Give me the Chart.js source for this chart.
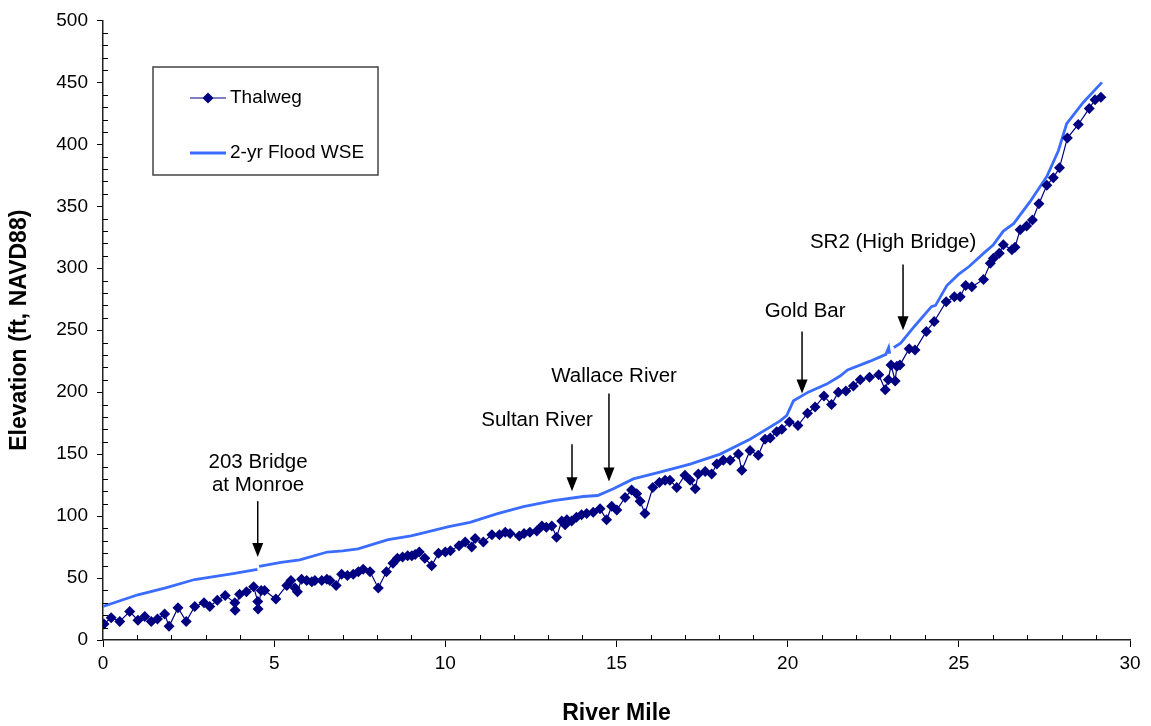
<!DOCTYPE html>
<html>
<head>
<meta charset="utf-8">
<title>Thalweg and 2-yr Flood WSE</title>
<script src="https://cdn.jsdelivr.net/npm/chart.js@4.4.1/dist/chart.umd.min.js"></script>
<style>
  html, body { margin: 0; padding: 0; background: #fff; }
  #wrap { width: 1151px; height: 726px; }
</style>
</head>
<body>
<div id="wrap"><canvas id="profile" width="1151" height="726"></canvas></div>
<script>
// Thalweg survey points (river mile, elevation ft)
const thalwegMile = [
  0.03, 0.24, 0.49, 0.78, 1.02, 1.22, 1.41, 1.59, 1.80, 1.93,
  2.19, 2.43, 2.68, 2.95, 3.12, 3.34, 3.57, 3.85, 3.86, 3.99,
  4.19, 4.40, 4.52, 4.53, 4.62, 4.72, 5.05, 5.37, 5.49, 5.61,
  5.68, 5.80, 5.95, 6.10, 6.19, 6.39, 6.54, 6.63, 6.81, 6.97,
  7.14, 7.31, 7.46, 7.60, 7.80, 8.04, 8.28, 8.47, 8.60, 8.75,
  8.90, 9.02, 9.12, 9.24, 9.40, 9.60, 9.80, 10.00, 10.15, 10.40,
  10.58, 10.77, 10.87, 11.11, 11.36, 11.58, 11.75, 11.89, 12.16, 12.30,
  12.47, 12.67, 12.82, 12.95, 13.11, 13.25, 13.40, 13.50, 13.55, 13.69,
  13.83, 13.98, 14.13, 14.32, 14.52, 14.71, 14.86, 15.01, 15.25, 15.44,
  15.59, 15.69, 15.83, 16.06, 16.25, 16.42, 16.56, 16.76, 17.00, 17.15,
  17.30, 17.39, 17.59, 17.78, 17.93, 18.12, 18.32, 18.56, 18.66, 18.90,
  19.14, 19.34, 19.49, 19.68, 19.83, 20.05, 20.30, 20.58, 20.80, 21.06,
  21.28, 21.48, 21.70, 21.92, 22.12, 22.39, 22.66, 22.85, 22.94, 23.02,
  23.14, 23.19, 23.28, 23.55, 23.72, 24.05, 24.28, 24.63, 24.87, 25.04,
  25.20, 25.38, 25.72, 25.92, 26.01, 26.18, 26.30, 26.55, 26.64, 26.79,
  26.98, 27.15, 27.34, 27.57, 27.76, 27.94, 28.17, 28.49, 28.81, 28.98,
  29.15
];
const thalwegElev = [
  13, 18, 15, 23, 16, 19, 15, 17, 21, 11,
  26, 15, 27, 30, 27, 32, 36, 30, 24, 37,
  39, 43, 31, 25, 40, 40, 33, 44, 48, 42,
  39, 49, 48, 47, 48, 48, 49, 48, 44, 53,
  52, 53, 55, 57, 55, 42, 55, 62, 66, 67,
  68, 68, 69, 71, 66, 60, 70, 71, 72, 76,
  79, 75, 82, 79, 85, 85, 87, 86, 84, 86,
  87, 88, 92, 91, 92, 83, 96, 93, 97, 96,
  99, 101, 102, 103, 106, 97, 108, 105, 115, 121,
  118, 112, 102, 123, 127, 129, 129, 123, 133, 129,
  122, 134, 136, 134, 142, 145, 145, 150, 137, 153,
  149, 162, 163, 168, 170, 176, 173, 183, 188, 197,
  190, 200, 201, 205, 210, 212, 214, 202, 210, 222,
  209, 221, 222, 235, 234, 249, 257, 273, 277, 277,
  286, 285, 291, 304, 308, 312, 319, 315, 317, 331,
  334, 339, 352, 367, 373, 381, 405, 416, 429, 436,
  438
];

// 2-yr flood water surface (null marks a break in the profile)
const wseMile = [
  0.00, 1.02, 1.83, 2.68, 3.10, 3.80, 4.51, 4.54, 4.56, 5.20,
  5.75, 6.55, 7.00, 7.45, 8.33, 9.00, 9.45, 10.10, 10.72, 11.50,
  12.28, 13.16, 14.03, 14.45, 14.91, 15.49, 16.27, 17.15, 18.03, 18.90,
  19.78, 19.97, 20.17, 20.60, 21.14, 21.53, 21.75, 22.41, 22.87, 22.95,
  22.98, 23.04, 23.10, 23.30, 23.70, 24.20, 24.32, 24.65, 24.99, 25.30,
  25.72, 26.01, 26.30, 26.60, 27.08, 27.57, 27.91, 28.15, 28.64, 29.18
];
const wseElev = [
  27, 36.5, 42, 48.8, 50.5, 53.6, 57, null, 59.5, 62.7,
  64.7, 71, 72, 73.5, 81, 84, 87, 91.5, 95, 101.8,
  107.7, 112.5, 115.8, 116.6, 122, 130, 135.4, 142, 150, 162,
  176.8, 181, 193, 200, 206.5, 213, 218, 225, 230.5, 236,
  231, null, 236, 239.5, 253, 269, 270, 286, 295, 301.4,
  312, 319, 330, 336, 353.7, 374, 395, 416.7, 434, 450
];

const xTicks = [0, 5, 10, 15, 20, 25, 30];
const yTicks = [0, 50, 100, 150, 200, 250, 300, 350, 400, 450, 500];

// Callouts: label lines, text anchor and arrow (river mile / elevation)
const callouts = [
  { lines: ['203 Bridge', 'at Monroe'], textMile: 4.53, textElev: 143, arrowMile: 4.52, fromElev: 112, toElev: 67 },
  { lines: ['Sultan River'], textMile: 12.68, textElev: 177, arrowMile: 13.70, fromElev: 158, toElev: 120 },
  { lines: ['Wallace River'], textMile: 14.93, textElev: 213, arrowMile: 14.78, fromElev: 199, toElev: 128 },
  { lines: ['Gold Bar'], textMile: 20.51, textElev: 265, arrowMile: 20.42, fromElev: 249, toElev: 199 },
  { lines: ['SR2 (High Bridge)'], textMile: 23.08, textElev: 321, arrowMile: 23.37, fromElev: 303, toElev: 250 }
];

const NAVY = '#000080';
const WSE_BLUE = '#3a6cff';
const FONT = "'Liberation Sans', Arial, sans-serif";

const thalwegData = thalwegMile.map((m, i) => ({ x: m, y: thalwegElev[i] }));
const wseData = wseMile.map((m, i) => ({ x: m, y: wseElev[i] }));

// minor ticks, callout arrows and the boxed legend
const overlay = {
  id: 'overlay',
  afterDraw(chart) {
    const ctx = chart.ctx;
    const xs = chart.scales.x;
    const ys = chart.scales.y;
    const area = chart.chartArea;

    ctx.save();
    ctx.strokeStyle = '#000';
    ctx.lineWidth = 1;
    // minor ticks point inward
    for (let v = 10; v < 500; v += 10) {
      if (v % 50 === 0) continue;
      const py = Math.round(ys.getPixelForValue(v)) + 0.5;
      ctx.beginPath();
      ctx.moveTo(area.left, py);
      ctx.lineTo(area.left + 5, py);
      ctx.stroke();
    }
    for (let v = 1; v < 30; v++) {
      if (v % 5 === 0) continue;
      const px = Math.round(xs.getPixelForValue(v)) + 0.5;
      ctx.beginPath();
      ctx.moveTo(px, area.bottom);
      ctx.lineTo(px, area.bottom - 5);
      ctx.stroke();
    }

    // callouts
    ctx.fillStyle = '#000';
    ctx.font = '20.5px ' + FONT;
    ctx.textAlign = 'center';
    ctx.textBaseline = 'middle';
    callouts.forEach(c => {
      const tx = xs.getPixelForValue(c.textMile);
      const ty = ys.getPixelForValue(c.textElev);
      c.lines.forEach((t, i) => ctx.fillText(t, tx, ty + i * 23));

      const ax = xs.getPixelForValue(c.arrowMile);
      const y0 = ys.getPixelForValue(c.fromElev);
      const y1 = ys.getPixelForValue(c.toElev);
      ctx.lineWidth = 1.5;
      ctx.beginPath();
      ctx.moveTo(ax, y0);
      ctx.lineTo(ax, y1 - 12);
      ctx.stroke();
      ctx.beginPath();
      ctx.moveTo(ax - 5.5, y1 - 14);
      ctx.lineTo(ax + 5.5, y1 - 14);
      ctx.lineTo(ax, y1);
      ctx.closePath();
      ctx.fill();
    });

    // legend box
    const bx = 153, by = 67, bw = 225, bh = 108;
    ctx.strokeStyle = '#444';
    ctx.lineWidth = 1.5;
    ctx.strokeRect(bx, by, bw, bh);

    const e1 = by + 31, e2 = by + 86;
    ctx.strokeStyle = NAVY;
    ctx.lineWidth = 1;
    ctx.beginPath();
    ctx.moveTo(190, e1);
    ctx.lineTo(226, e1);
    ctx.stroke();
    ctx.fillStyle = NAVY;
    ctx.beginPath();
    ctx.moveTo(208, e1 - 5.5);
    ctx.lineTo(213.5, e1);
    ctx.lineTo(208, e1 + 5.5);
    ctx.lineTo(202.5, e1);
    ctx.closePath();
    ctx.fill();

    ctx.strokeStyle = WSE_BLUE;
    ctx.lineWidth = 2.8;
    ctx.beginPath();
    ctx.moveTo(190, e2);
    ctx.lineTo(226, e2);
    ctx.stroke();

    ctx.fillStyle = '#000';
    ctx.textAlign = 'left';
    ctx.font = '19px ' + FONT;
    ctx.fillText('Thalweg', 230, e1);
    ctx.fillText('2-yr Flood WSE', 230, e2);
    ctx.restore();
  }
};

new Chart(document.getElementById('profile'), {
  type: 'line',
  data: {
    datasets: [
      {
        label: 'Thalweg',
        data: thalwegData,
        borderColor: NAVY,
        backgroundColor: NAVY,
        borderWidth: 1.2,
        pointStyle: 'rectRot',
        pointRadius: 5.5,
        pointBorderWidth: 0,
        tension: 0
      },
      {
        label: '2-yr Flood WSE',
        data: wseData,
        borderColor: WSE_BLUE,
        borderWidth: 2.8,
        pointRadius: 0,
        spanGaps: false,
        tension: 0
      }
    ]
  },
  options: {
    responsive: false,
    animation: false,
    devicePixelRatio: 1,
    layout: { padding: { top: 18, right: 21, left: 0, bottom: 0 } },
    plugins: { legend: { display: false }, tooltip: { enabled: false } },
    scales: {
      x: {
        type: 'linear',
        min: 0,
        max: 30,
        afterBuildTicks: s => { s.ticks = xTicks.map(v => ({ value: v })); },
        afterFit: s => { s.height = 86; },
        grid: { drawOnChartArea: false, drawTicks: true, tickLength: 7, color: '#000' },
        border: { display: true, color: '#222', width: 1.5 },
        ticks: { color: '#000', font: { family: FONT, size: 19 }, padding: 5, maxRotation: 0 },
        title: { display: true, text: 'River Mile', color: '#000',
                 font: { family: FONT, size: 23, weight: 'bold' }, padding: { top: 0, bottom: -1 } }
      },
      y: {
        min: 0,
        max: 500,
        afterBuildTicks: s => { s.ticks = yTicks.map(v => ({ value: v })); },
        afterFit: s => { s.width = 103; },
        grid: { drawOnChartArea: false, drawTicks: true, tickLength: 6, color: '#000' },
        border: { display: true, color: '#222', width: 1.5 },
        ticks: { color: '#000', font: { family: FONT, size: 19 }, padding: 9 },
        title: { display: true, text: 'Elevation (ft, NAVD88)', color: '#000',
                 font: { family: FONT, size: 23, weight: 'bold' }, padding: { top: 6, bottom: 0 } }
      }
    }
  },
  plugins: [overlay]
});
</script>
</body>
</html>
